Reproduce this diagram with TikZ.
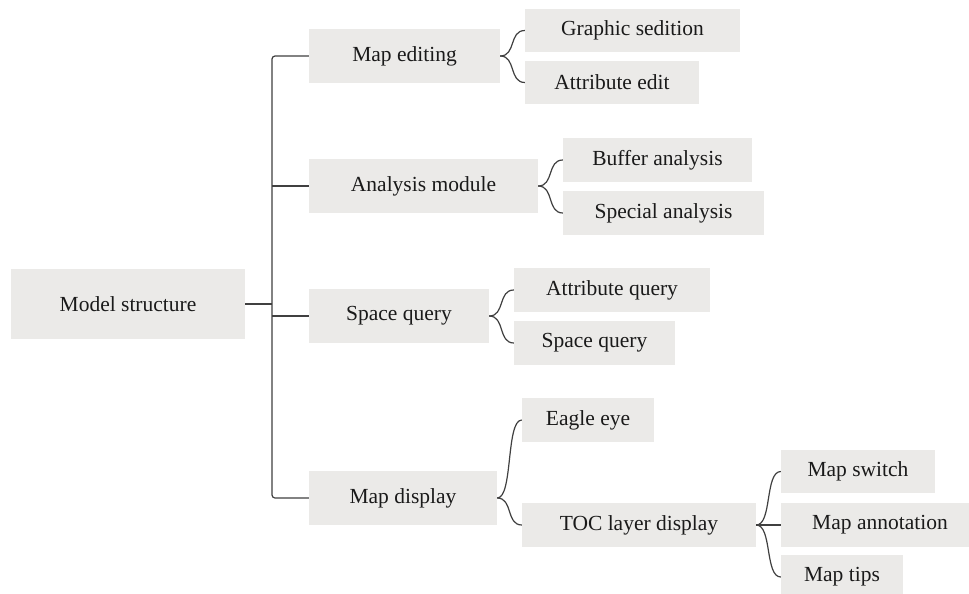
\documentclass[tikz,border=0pt]{standalone}
\usepackage{fontspec}
\usetikzlibrary{calc}
\setmainfont{Liberation Serif}
\definecolor{boxfill}{HTML}{EBEAE8}
\definecolor{linegray}{HTML}{404040}
\definecolor{txt}{HTML}{1A1A1A}
\tikzset{
  box/.style={fill=boxfill, draw=none, inner sep=0pt, align=center,
    text=txt, font=\fontsize{21.5}{24}\selectfont},
  conn/.style={draw=linegray, line width=1.2pt},
  brace/.style={to path={.. controls ($(\tikztostart)!0.65!(\tikztotarget |- \tikztostart)$)
      and ($(\tikztotarget)!0.65!(\tikztostart |- \tikztotarget)$) .. (\tikztotarget)}}
}
\begin{document}
\begin{tikzpicture}[x=1pt, y=-1pt]
  \clip (0,0) rectangle (969,594);
  \fill[white] (0,0) rectangle (969,594);

  % root
  \node[box, minimum width=234pt, minimum height=70pt] (root) at (128,304) {Model structure};

  % first level
  \node[box, minimum width=191pt, minimum height=54pt] (me) at (404.5,56) {Map editing};
  \node[box, minimum width=229pt, minimum height=54pt] (am) at (423.5,186) {Analysis module};
  \node[box, minimum width=180pt, minimum height=54pt] (sq) at (399,316) {Space query};
  \node[box, minimum width=188pt, minimum height=54pt] (md) at (403,498) {Map display};

  % second level
  \node[box, minimum width=215pt, minimum height=43pt] (gs) at (632.5,30.5) {Graphic sedition};
  \node[box, minimum width=174pt, minimum height=43pt] (ae) at (612,82.5) {Attribute edit};
  \node[box, minimum width=189pt, minimum height=44pt] (ba) at (657.5,160) {Buffer analysis};
  \node[box, minimum width=201pt, minimum height=44pt] (sa) at (663.5,213) {Special analysis};
  \node[box, minimum width=196pt, minimum height=44pt] (aq) at (612,290) {Attribute query};
  \node[box, minimum width=161pt, minimum height=44pt] (sq2) at (594.5,343) {Space query};
  \node[box, minimum width=132pt, minimum height=44pt] (ee) at (588,420) {Eagle eye};
  \node[box, minimum width=234pt, minimum height=44pt] (toc) at (639,525) {TOC layer display};

  % third level
  \node[box, minimum width=154pt, minimum height=43pt] (ms) at (858,471.5) {Map switch};
  \node[box, minimum width=198pt, minimum height=44pt] (man) at (880,525) {Map annotation};
  \node[box, minimum width=122pt, minimum height=44pt] (mt) at (842,577) {Map tips};

  % spine from the root to the first level
  \coordinate (sx) at (272,0);
  \draw[conn] (root.east) -- (root.east -| sx);
  \draw[conn, rounded corners=3pt] (me.west) -- (me.west -| sx) -- (md.west -| sx) -- (md.west);
  \draw[conn] (am.west -| sx) -- (am.west);
  \draw[conn] (sq.west -| sx) -- (sq.west);

  % braces to the children
  \draw[conn] (me.east) to[brace] (gs.west);
  \draw[conn] (me.east) to[brace] (ae.west);
  \draw[conn] (am.east) to[brace] (ba.west);
  \draw[conn] (am.east) to[brace] (sa.west);
  \draw[conn] (sq.east) to[brace] (aq.west);
  \draw[conn] (sq.east) to[brace] (sq2.west);
  \draw[conn] (md.east) to[brace] (ee.west);
  \draw[conn] (md.east) to[brace] (toc.west);
  \draw[conn] (toc.east) to[brace] (ms.west);
  \draw[conn] (toc.east) -- (man.west);
  \draw[conn] (toc.east) to[brace] (mt.west);
\end{tikzpicture}
\end{document}
